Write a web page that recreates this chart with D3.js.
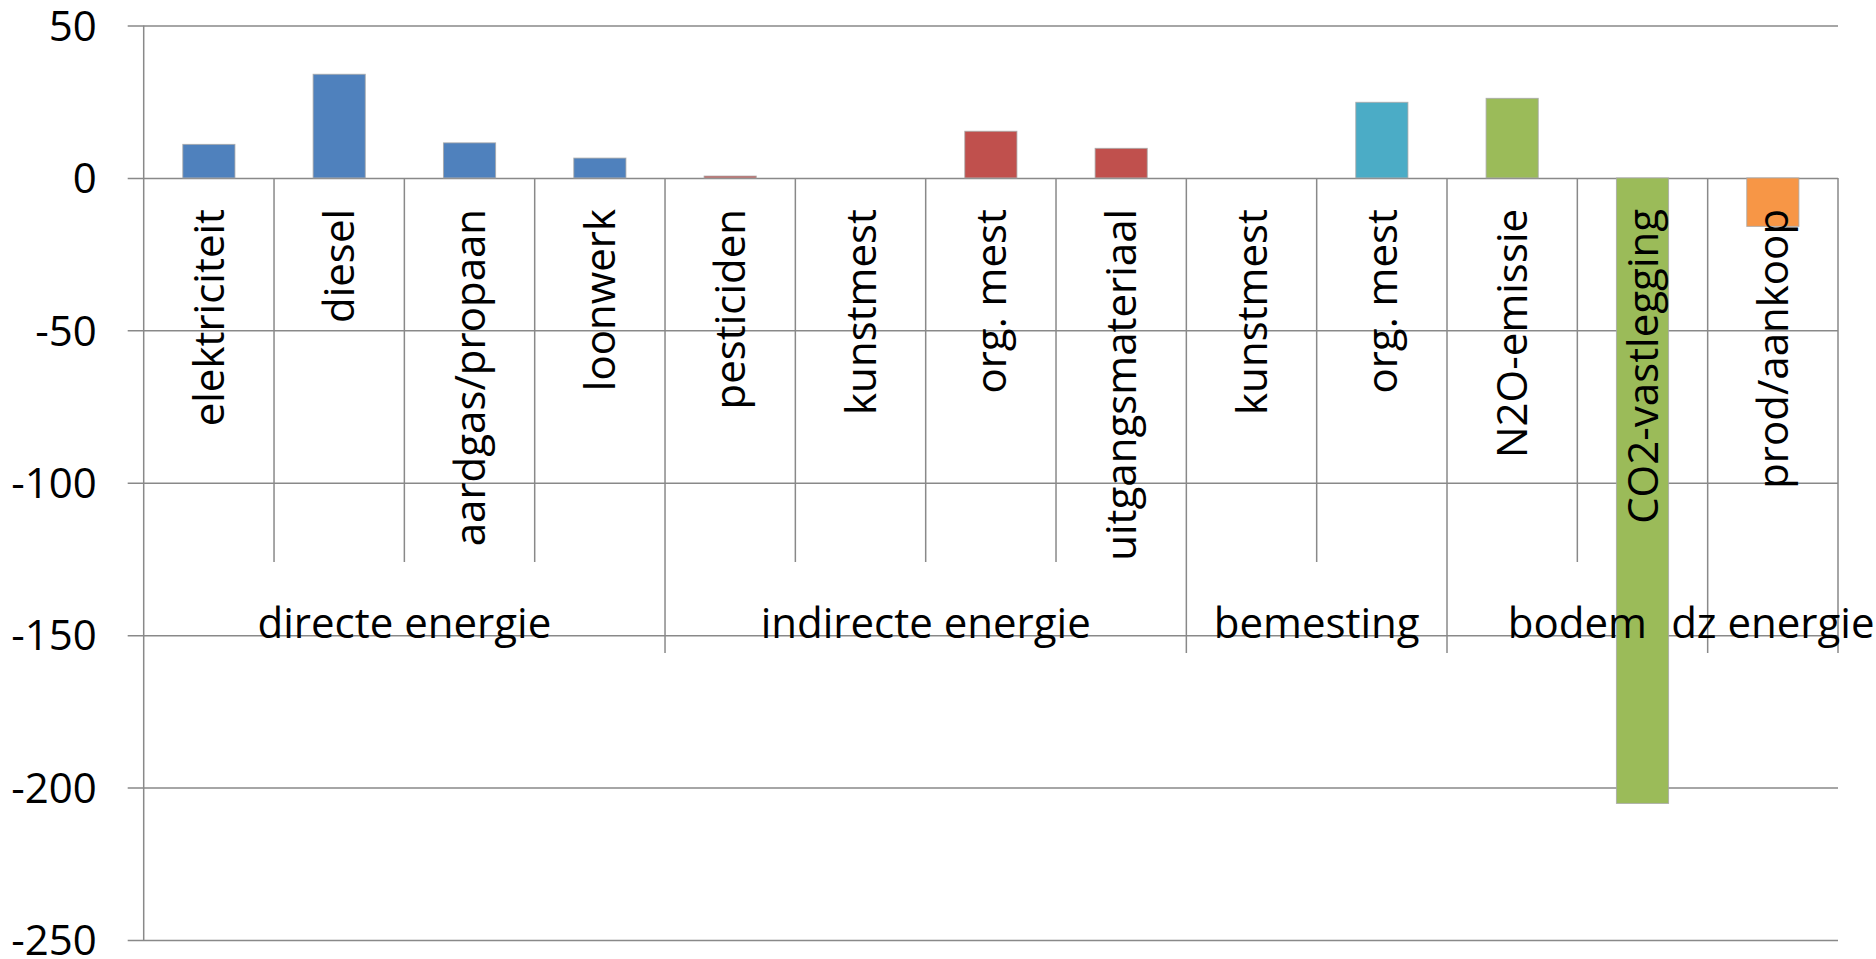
<!DOCTYPE html>
<html>
<head>
<meta charset="utf-8">
<script src="https://cdn.jsdelivr.net/npm/d3@7"></script>
<style>
  html, body { margin: 0; padding: 0; background: #fff; overflow: hidden; }
  svg { display: block; }
  text { font-family: "Open Sans", "Noto Sans", sans-serif; fill: #000; }
</style>
</head>
<body>
<svg id="chart" width="1876" height="959"></svg>
<script>
// Emission balance per source (kg CO2-eq), grouped by origin
const categories = ["elektriciteit", "diesel", "aardgas/propaan", "loonwerk",
                    "pesticiden", "kunstmest", "org. mest", "uitgangsmateriaal",
                    "kunstmest", "org. mest",
                    "N2O-emissie", "CO2-vastlegging",
                    "prod/aankoop"];
const values = [11, 34, 11.5, 6.5,
                0.6, 0, 15.3, 9.7,
                0, 24.8,
                26.1, -205.2,
                -15.9];
const groupNames = ["directe energie", "indirecte energie", "bemesting", "bodem", "dz energie"];
const groupSizes = [4, 4, 2, 2, 1];
const groupColors = ["#4F81BD", "#C0504D", "#4BACC6", "#9BBB59", "#F79646"];
const yTicks = [-250, -200, -150, -100, -50, 0, 50];

const svg = d3.select("#chart");
const plotLeft = 143.7, plotRight = 1838, plotTop = 25.5, plotBottom = 940;
const gridColor = "#898989";
const fontSize = 42;

const idx = categories.map((d, i) => i);

// group index of every category
const groupOf = [];
groupSizes.forEach((n, g) => { for (let k = 0; k < n; k++) groupOf.push(g); });

const y = d3.scaleLinear().domain([-250, 50]).range([plotBottom, plotTop]);
const slot = d3.scaleBand().domain(idx).range([plotLeft, plotRight]).padding(0);
const xBar = d3.scaleBand().domain(idx).range([plotLeft, plotRight])
  .paddingInner(0.6).paddingOuter(0.3);

// horizontal gridlines with outward tick marks and value labels (plain hyphen minus)
const yAxis = d3.axisLeft(y).tickValues(yTicks)
  .tickSize(-(plotRight - plotLeft)).tickPadding(0).tickFormat(d => String(d));
const gy = svg.append("g").attr("transform", `translate(${plotLeft},0)`).call(yAxis);
gy.select(".domain").remove();
gy.selectAll(".tick line")
  .attr("x1", -16)
  .attr("stroke", gridColor).attr("stroke-width", 1.5);
gy.selectAll(".tick text")
  .attr("x", -47)
  .attr("dy", "0.35em")
  .style("font-size", fontSize + "px")
  .style("font-family", '"Open Sans", "Noto Sans", sans-serif')
  .attr("fill", "#000");

// bars with a faint grey outline
svg.append("g").selectAll("rect")
  .data(idx)
  .join("rect")
  .attr("x", i => xBar(i))
  .attr("width", xBar.bandwidth())
  .attr("y", i => y(Math.max(0, values[i])))
  .attr("height", i => Math.abs(y(values[i]) - y(0)))
  .attr("fill", i => groupColors[groupOf[i]])
  .attr("stroke", "#a6a6a6")
  .attr("stroke-opacity", 0.8)
  .attr("stroke-width", 1);

// value axis line
svg.append("line")
  .attr("x1", plotLeft).attr("x2", plotLeft)
  .attr("y1", plotTop).attr("y2", plotBottom)
  .attr("stroke", gridColor).attr("stroke-width", 1.5);

// category dividers: short inside a group, long at group boundaries
const y0 = y(0);
const innerEnd = 562, groupEnd = 653;
const boundaries = d3.range(categories.length + 1);
const groupStarts = new Set();
let acc = 0;
groupSizes.forEach(n => { groupStarts.add(acc); acc += n; });
groupStarts.add(acc);
svg.append("g").selectAll("line")
  .data(boundaries.filter(b => b > 0))
  .join("line")
  .attr("x1", b => b < categories.length ? slot(b) : plotRight)
  .attr("x2", b => b < categories.length ? slot(b) : plotRight)
  .attr("y1", y0)
  .attr("y2", b => groupStarts.has(b) ? groupEnd : innerEnd)
  .attr("stroke", gridColor).attr("stroke-width", 1.5);

// rotated category labels
const labelTop = y0 + 31;
svg.append("g").selectAll("text")
  .data(idx)
  .join("text")
  .attr("transform", i => `translate(${slot(i) + slot.bandwidth() / 2},${labelTop}) rotate(-90)`)
  .attr("text-anchor", "end")
  .attr("dy", "0.36em")
  .style("font-size", fontSize + "px")
  .text(i => categories[i]);

// group labels
let start = 0;
const groupCenters = groupSizes.map(n => {
  const c = (slot(start) + (start + n < categories.length ? slot(start + n) : plotRight)) / 2;
  start += n;
  return c;
});
svg.append("g").selectAll("text")
  .data(groupNames)
  .join("text")
  .attr("x", (d, g) => groupCenters[g])
  .attr("y", 638)
  .attr("text-anchor", "middle")
  .style("font-size", fontSize + "px")
  .text(d => d);
</script>
</body>
</html>
